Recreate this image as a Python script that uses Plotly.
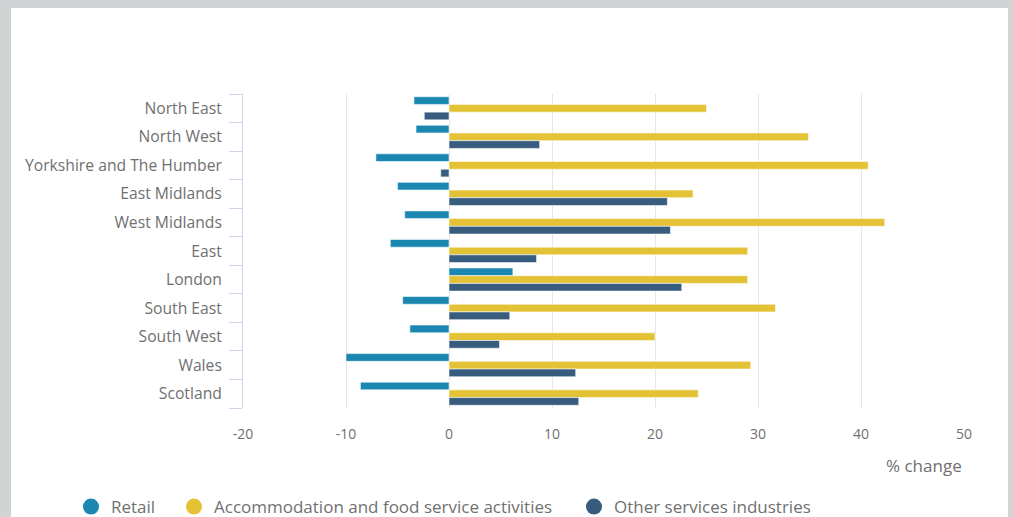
import plotly.graph_objects as go

regions = ["North East", "North West", "Yorkshire and The Humber", "East Midlands",
           "West Midlands", "East", "London", "South East", "South West", "Wales", "Scotland"]
retail = [-3.4, -3.2, -7.1, -5.0, -4.3, -5.7, 6.2, -4.5, -3.8, -10.0, -8.6]
accommodation = [25.0, 34.9, 40.7, 23.7, 42.3, 29.0, 29.0, 31.7, 20.0, 29.3, 24.2]
other_services = [-2.4, 8.8, -0.8, 21.2, 21.5, 8.5, 22.6, 5.9, 4.9, 12.3, 12.6]
x_ticks = [-20, -10, 0, 10, 20, 30, 40, 50]
x_tick_text = ["-20", "-10", "0", "10", "20", "30", "40", "50"]

series = [
    ("Retail", retail, "#1b87b1"),
    ("Accommodation and food service activities", accommodation, "#e4c235"),
    ("Other services industries", other_services, "#385c7d"),
]
legend_left_px = [71, 174, 574]

FONT = "Open Sans"
GREY = "#707070"
W, H = 1013, 517
L, R, T, B = 243, 49, 94, 109
pw, ph = W - L - R, H - T - B

fig = go.Figure()
pos = list(range(len(regions)))
for name, vals, col in series:
    fig.add_trace(go.Bar(
        y=pos, x=vals, orientation="h", name=name,
        marker=dict(color=col, line=dict(color="rgba(255,255,255,0.7)", width=0.8)),
        showlegend=False,
    ))
legend_ids = ["legend", "legend2", "legend3"]
for (name, vals, col), lid in zip(series, legend_ids):
    fig.add_trace(go.Scatter(
        x=[None], y=[None], mode="markers", name=name,
        marker=dict(color=col, size=16, symbol="circle"),
        showlegend=True, legend=lid,
    ))

fig.add_shape(type="rect", xref="paper", yref="paper",
              x0=(11 - L) / pw, x1=(1008 - L) / pw,
              y0=(H - 530 - B) / ph, y1=(H - 8 - B) / ph,
              fillcolor="white", line=dict(width=0), layer="below")

fig.add_annotation(text="% change", xref="paper", yref="paper",
                   x=1, y=(408 - 465) / ph, xanchor="right", yanchor="middle",
                   showarrow=False, font=dict(family=FONT, size=17, color=GREY))

legend_common = dict(orientation="h", xref="container", yref="container",
                     xanchor="left", y=1 - 507 / H, yanchor="middle",
                     font=dict(family=FONT, size=17, color=GREY),
                     bgcolor="rgba(0,0,0,0)", borderwidth=0)

fig.update_layout(
    width=W, height=H,
    margin=dict(l=L, r=R, t=T, b=B, autoexpand=False),
    paper_bgcolor="#d0d4d4",
    plot_bgcolor="rgba(0,0,0,0)",
    barmode="group", bargap=0.19, bargroupgap=0,
    font=dict(family=FONT, color=GREY),
    xaxis=dict(range=[-20, 50], tickvals=x_ticks, ticktext=x_tick_text, showgrid=True,
               gridcolor="#e6e6e6", zeroline=False, showline=False, ticks="",
               tickfont=dict(size=14, color=GREY), ticklabelstandoff=16),
    yaxis=dict(range=[10.5, -0.5], tickvals=pos, ticktext=regions, showgrid=False,
               zeroline=False, showline=True, linecolor="#ccd6eb", linewidth=1,
               ticks="", tickfont=dict(size=15.7, color=GREY), ticklabelstandoff=17,
               minor=dict(ticks="outside", ticklen=13, tickcolor="#ccd6eb",
                          tick0=0.5, dtick=1, showgrid=False)),
    legend=dict(x=legend_left_px[0] / W, **legend_common),
    legend2=dict(x=legend_left_px[1] / W, **legend_common),
    legend3=dict(x=legend_left_px[2] / W, **legend_common),
)

fig.write_html("out.html", config={"displayModeBar": False},
               post_script="document.body.style.margin='0';document.body.style.overflow='hidden';")
